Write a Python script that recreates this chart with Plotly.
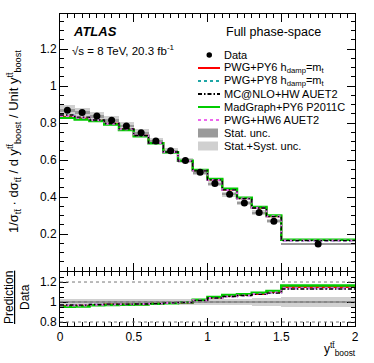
import plotly.graph_objects as go

# bin edges in y_boost^tt
bin_edges = [0.0, 0.1, 0.2, 0.3, 0.4, 0.5, 0.6, 0.7, 0.8, 0.9, 1.0,
             1.1, 1.2, 1.3, 1.4, 1.5, 2.0]

data = [0.870, 0.858, 0.838, 0.816, 0.785, 0.748, 0.703, 0.650,
        0.598, 0.534, 0.474, 0.416, 0.368, 0.317, 0.270, 0.146]
# relative uncertainties
stat_rel = [0.006, 0.006, 0.006, 0.006, 0.006, 0.006, 0.007, 0.007,
            0.008, 0.008, 0.009, 0.009, 0.010, 0.011, 0.012, 0.013]
tot_rel = [0.030, 0.030, 0.028, 0.027, 0.026, 0.025, 0.025, 0.025,
           0.026, 0.028, 0.030, 0.032, 0.034, 0.036, 0.040, 0.050]

pwg_py6 = [0.835, 0.825, 0.813, 0.796, 0.765, 0.732, 0.692, 0.644,
           0.595, 0.545, 0.495, 0.441, 0.394, 0.342, 0.297, 0.168]
pwg_py8 = [0.840, 0.828, 0.815, 0.796, 0.766, 0.733, 0.692, 0.644,
           0.595, 0.545, 0.494, 0.440, 0.393, 0.342, 0.296, 0.166]
mcnlo_hw = [0.844, 0.832, 0.817, 0.798, 0.769, 0.733, 0.692, 0.644,
            0.595, 0.542, 0.493, 0.439, 0.392, 0.341, 0.294, 0.165]
madgraph = [0.829, 0.819, 0.811, 0.792, 0.763, 0.729, 0.691, 0.642,
            0.596, 0.546, 0.498, 0.445, 0.397, 0.346, 0.300, 0.170]
pwg_hw6 = [0.839, 0.829, 0.815, 0.796, 0.767, 0.733, 0.692, 0.644,
           0.596, 0.544, 0.493, 0.439, 0.392, 0.342, 0.296, 0.166]

FONT = "Liberation Sans, Arial, sans-serif"
W, H = 374, 363
L, R, T, B = 60, 19, 14, 37

centers = [(a + b) / 2 for a, b in zip(bin_edges[:-1], bin_edges[1:])]
widths = [b - a for a, b in zip(bin_edges[:-1], bin_edges[1:])]

models = [
    ("PWG+PY6 h<sub>damp</sub>=m<sub>t</sub>", pwg_py6, "#ff0000", "solid", 2),
    ("PWG+PY8 h<sub>damp</sub>=m<sub>t</sub>", pwg_py8, "#1fa6a6", "dot", 2),
    ("MC@NLO+HW AUET2", mcnlo_hw, "#000000", "4px,2px,1.5px,2px", 1.3),
    ("MadGraph+PY6 P2011C", madgraph, "#00cc00", "solid", 2.5),
    ("PWG+HW6 AUET2", pwg_hw6, "#ee66ee", "dot", 2),
]
draw_order = [0, 1, 3, 4, 2]

fig = go.Figure()

# main panel uncertainty boxes
fig.add_trace(go.Bar(
    x=centers, y=[2 * d * t for d, t in zip(data, tot_rel)],
    base=[d * (1 - t) for d, t in zip(data, tot_rel)], width=widths,
    marker=dict(color="#d0d0d0", line_width=0), xaxis="x", yaxis="y"))
fig.add_trace(go.Bar(
    x=centers, y=[2 * d * s for d, s in zip(data, stat_rel)],
    base=[d * (1 - s) for d, s in zip(data, stat_rel)], width=widths,
    marker=dict(color="#9a9a9a", line_width=0), xaxis="x", yaxis="y"))

# ratio panel bands
fig.add_trace(go.Bar(
    x=centers, y=[2 * t for t in tot_rel], base=[1 - t for t in tot_rel],
    width=widths, marker=dict(color="#d0d0d0", line_width=0),
    xaxis="x2", yaxis="y2"))
fig.add_trace(go.Bar(
    x=centers, y=[2 * s for s in stat_rel], base=[1 - s for s in stat_rel],
    width=widths, marker=dict(color="#9a9a9a", line_width=0),
    xaxis="x2", yaxis="y2"))

for i in draw_order:
    name, vals, col, dash, lw = models[i]
    fig.add_trace(go.Scatter(
        x=bin_edges, y=vals + [vals[-1]], mode="lines", line_shape="hv",
        line=dict(color=col, dash=dash, width=lw), xaxis="x", yaxis="y"))
    ratio = [v / d for v, d in zip(vals, data)]
    fig.add_trace(go.Scatter(
        x=bin_edges, y=ratio + [ratio[-1]], mode="lines", line_shape="hv",
        line=dict(color=col, dash=dash, width=lw), xaxis="x2", yaxis="y2"))

fig.add_trace(go.Scatter(
    x=centers, y=data, mode="markers",
    marker=dict(color="black", size=7), xaxis="x", yaxis="y"))

for yv in [0.8, 1.0, 1.2]:
    fig.add_shape(type="line", xref="x2", yref="y2", x0=0, x1=2, y0=yv, y1=yv,
                  line=dict(color="#777777", width=1, dash="dot"), layer="above")


def px(xp):
    return (xp - L) / (W - L - R)


def py(yp):
    return (H - B - yp) / (H - T - B)


ann = []


def text(x, y, s, size=11, xanchor="left", **kw):
    ann.append(dict(x=px(x), y=py(y), xref="paper", yref="paper", text=s,
                    showarrow=False, xanchor=xanchor, yanchor="middle",
                    font=dict(family=FONT, size=size, color="black"), **kw))


text(71, 31, "<b><i>ATLAS</i></b>", size=13)
text(70, 50, "√s = 8 TeV, 20.3 fb<sup>-1</sup>", size=11.5)
text(224, 32, "Full phase-space", size=12.5)

# legend
rows = [55, 68, 81, 94, 107, 120, 133, 146]
labels = ["Data"] + [m[0] for m in models] + ["Stat. unc.", "Stat.+Syst. unc."]
for yr, lab in zip(rows, labels):
    text(222, yr, lab, size=11)
fig.add_shape(type="circle", xref="paper", yref="paper",
              x0=px(206.5), x1=px(212), y0=py(57.7), y1=py(52.3),
              fillcolor="black", line_width=0)
for yr, m in zip(rows[1:6], models):
    fig.add_shape(type="line", xref="paper", yref="paper",
                  x0=px(198), x1=px(220), y0=py(yr), y1=py(yr),
                  line=dict(color=m[2], dash=m[3], width=2))
for yr, col in zip(rows[6:], ["#9a9a9a", "#d0d0d0"]):
    fig.add_shape(type="rect", xref="paper", yref="paper",
                  x0=px(198), x1=px(218), y0=py(yr + 4.5), y1=py(yr - 4.5),
                  fillcolor=col, line_width=0)

ytitle = ("1/σ<sub>tt̄</sub> · dσ<sub>tt̄</sub> / d y<sup>tt̄</sup><sub>boost</sub>"
          " / Unit y<sup>tt̄</sup><sub>boost</sub>")
text(14, 142, ytitle, size=13, xanchor="center", textangle=-90)
text(17, 298, "<u>Prediction</u><br>Data", size=12, xanchor="center", textangle=-90)
text(340, 349, "y<sup>tt̄</sup><sub>boost</sub>", size=12, xanchor="center")

axis_common = dict(showline=True, linecolor="black", linewidth=1, mirror="allticks",
                   ticks="inside", ticklen=8, tickcolor="black", showgrid=False,
                   zeroline=False, automargin=False,
                   tickfont=dict(family=FONT, size=12, color="black"))
minor = dict(dtick=0.05, ticks="inside", ticklen=4, tickcolor="black")

fig.update_layout(
    width=W, height=H, margin=dict(l=L, r=R, t=T, b=B),
    paper_bgcolor="white", plot_bgcolor="white", showlegend=False,
    barmode="overlay", bargap=0,
    font=dict(family=FONT, color="black"),
    xaxis=dict(domain=[0, 1], range=[0, 2], anchor="y", showticklabels=False,
               dtick=0.5, minor=minor, **axis_common),
    yaxis=dict(domain=[0.176, 1], range=[0, 1.39], anchor="x",
               tickvals=[0.2, 0.4, 0.6, 0.8, 1.0, 1.2],
               ticktext=["0.2", "0.4", "0.6", "0.8", "1", "1.2"],
               minor=minor, **axis_common),
    xaxis2=dict(domain=[0, 1], range=[0, 2], anchor="y2",
                tickvals=[0, 0.5, 1, 1.5, 2], ticktext=["0", "0.5", "1", "1.5", "2"],
                minor=minor, **axis_common),
    yaxis2=dict(domain=[0, 0.173], range=[0.76, 1.3], anchor="x2",
                tickvals=[0.8, 1.0, 1.2], ticktext=["0.8", "1", "1.2"],
                minor=minor, **axis_common),
    annotations=ann,
)

fig.write_html("out.html", config={"displayModeBar": False},
               post_script="document.body.style.margin = '0px';")
